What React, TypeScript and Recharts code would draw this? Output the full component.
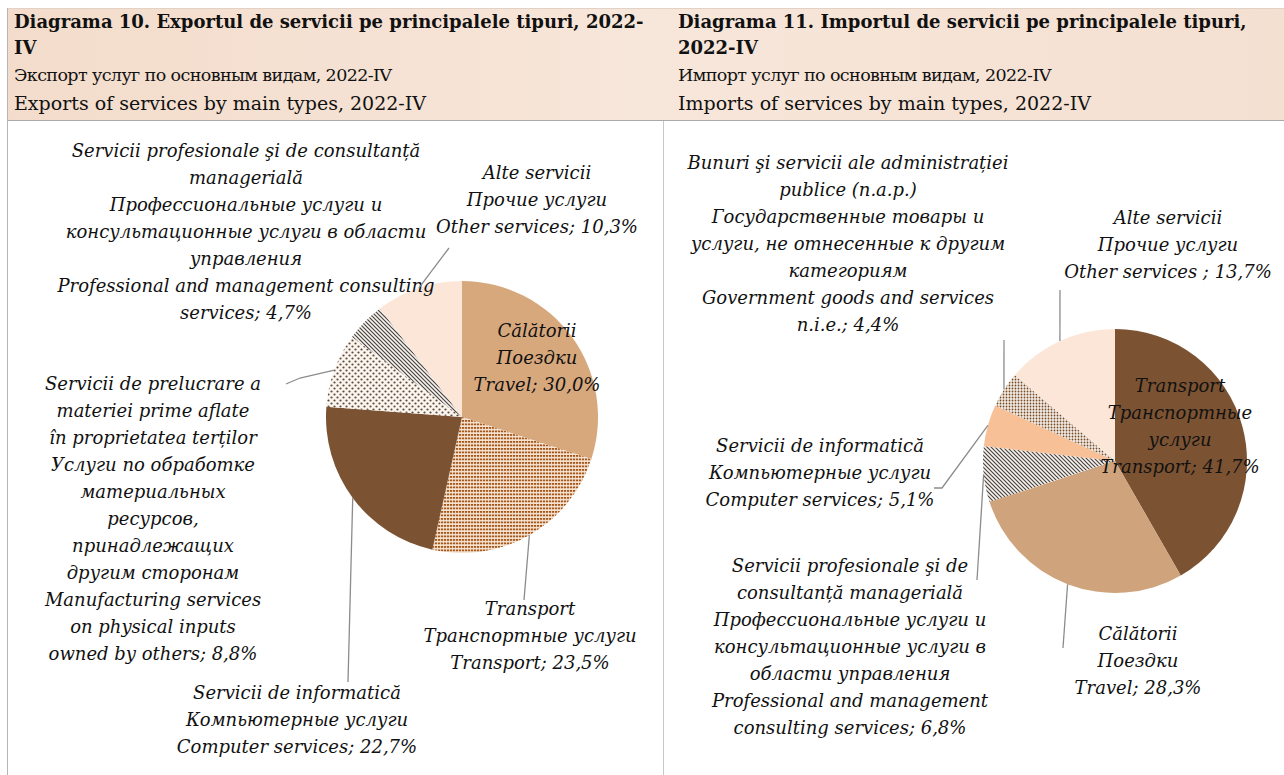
import { PieChart, Pie, Cell } from "recharts";

// Export of services, 2022-IV (clockwise from 12 o'clock)
const exportNames = ["Travel", "Transport", "Computer", "Manufacturing", "Professional", "Other"];
const exportValues = [30.0, 23.5, 22.7, 8.8, 4.7, 10.3];
const exportLabels = [
    ["Călătorii", "Поездки", "Travel; 30,0%"],
    ["Transport", "Транспортные услуги", "Transport; 23,5%"],
    ["Servicii de informatică", "Компьютерные услуги", "Computer services; 22,7%"],
    [
        "Servicii de prelucrare a", "materiei prime aflate", "în proprietatea terților",
        "Услуги по обработке", "материальных", "ресурсов,", "принадлежащих",
        "другим сторонам", "Manufacturing services", "on physical inputs", "owned by others; 8,8%",
    ],
    [
        "Servicii profesionale şi de consultanță", "managerială", "Профессиональные услуги и",
        "консультационные услуги в области", "управления",
        "Professional and management consulting", "services; 4,7%",
    ],
    ["Alte servicii", "Прочие услуги", "Other services; 10,3%"],
];

// Import of services, 2022-IV
const importNames = ["Transport", "Travel", "Professional", "Computer", "Government", "Other"];
const importValues = [41.7, 28.3, 6.8, 5.1, 4.4, 13.7];
const importLabels = [
    ["Transport", "Транспортные", "услуги", "Transport; 41,7%"],
    ["Călătorii", "Поездки", "Travel; 28,3%"],
    [
        "Servicii profesionale şi de", "consultanță managerială", "Профессиональные услуги и",
        "консультационные услуги в", "области управления", "Professional and management",
        "consulting services; 6,8%",
    ],
    ["Servicii de informatică", "Компьютерные услуги", "Computer services; 5,1%"],
    [
        "Bunuri şi servicii ale administrației", "publice (n.a.p.)", "Государственные товары и",
        "услуги, не отнесенные к другим", "категориям", "Government goods and services",
        "n.i.e.; 4,4%",
    ],
    ["Alte servicii", "Прочие услуги", "Other services ; 13,7%"],
];

const exportFills = ["#d8a87d", "url(#expTransport)", "#7c5332", "url(#dots)", "url(#stripes)", "#fbe6d8"];
const importFills = ["#7c5332", "#cfa37b", "url(#stripes)", "#f7c096", "url(#govDots)", "#fbe6d8"];

// label placement: text centre x, first baseline y, leader line points after the slice edge
const exportLayout = [
    { x: 537, y: 337, line: [] },
    { x: 530, y: 615, line: [[524, 600]] },
    { x: 297, y: 699, line: [[348, 682]] },
    { x: 153, y: 390, line: [[300, 378], [286, 384]] },
    { x: 246, y: 157, line: [] },
    { x: 537, y: 179, line: [[449, 248]] },
];
const importLayout = [
    { x: 1180, y: 392, line: [] },
    { x: 1138, y: 640, line: [[1063, 648]] },
    { x: 850, y: 572, line: [[977, 580]] },
    { x: 820, y: 452, line: [[942, 488], [934, 488]] },
    { x: 848, y: 169, line: [[1004, 340]] },
    { x: 1168, y: 224, line: [[1060, 290]] },
];

const RADIAN = Math.PI / 180;
const LINE_H = 27;

const makeLabel = (layout: any[], labels: string[][]) => (props: any) => {
    const { cx, cy, midAngle, outerRadius, index } = props;
    const L = layout[index];
    const ex = cx + outerRadius * Math.cos(-midAngle * RADIAN);
    const ey = cy + outerRadius * Math.sin(-midAngle * RADIAN);
    const pts = [[ex, ey], ...L.line].map((p: number[]) => p.join(",")).join(" ");
    return (
        <g key={`lbl-${index}`}>
            {L.line.length > 0 && (
                <polyline points={pts} fill="none" stroke="#8c8c8c" strokeWidth={1.3} />
            )}
            <text
                x={L.x}
                y={L.y}
                textAnchor="middle"
                fill="#111"
                style={{ fontFamily: "'DejaVu Serif', serif", fontStyle: "italic", fontSize: 18 }}
            >
                {labels[index].map((t, i) => (
                    <tspan key={i} x={L.x} dy={i === 0 ? 0 : LINE_H}>{t}</tspan>
                ))}
            </text>
        </g>
    );
};

const headerLine = { position: "absolute" as const, left: 0, whiteSpace: "nowrap" as const, lineHeight: 1 };

function Header({ left, lines }: { left: number; lines: string[] }) {
    return (
        <div style={{ position: "absolute", left, top: 0, fontFamily: "'DejaVu Serif', serif", color: "#111" }}>
            <div style={{ ...headerLine, top: 13, fontSize: 18, fontWeight: "bold" }}>{lines[0]}</div>
            <div style={{ ...headerLine, top: 39, fontSize: 18, fontWeight: "bold" }}>{lines[1]}</div>
            <div style={{ ...headerLine, top: 67, fontSize: 17.5, letterSpacing: -0.6 }}>{lines[2]}</div>
            <div style={{ ...headerLine, top: 94, fontSize: 19 }}>{lines[3]}</div>
        </div>
    );
}

export default function App() {
    return (
        <div style={{ position: "absolute", left: 0, top: 0, width: 1284, height: 775, background: "#fff", overflow: "hidden" }}>
            <svg width={0} height={0} style={{ position: "absolute" }}>
                <defs>
                    <pattern id="expTransport" width={3} height={3.5} patternUnits="userSpaceOnUse">
                        <rect width={3} height={3.5} fill="#f6e3d2" />
                        <rect x={0} y={0} width={2.2} height={1.8} fill="#a3561a" />
                    </pattern>
                    <pattern id="dots" width={6} height={6} patternUnits="userSpaceOnUse">
                        <rect width={6} height={6} fill="#fbf5ef" />
                        <circle cx={1.5} cy={1.5} r={1.1} fill="#5e4a38" />
                        <circle cx={4.5} cy={4.5} r={1.1} fill="#5e4a38" />
                    </pattern>
                    <pattern id="stripes" width={4} height={4} patternUnits="userSpaceOnUse">
                        <rect width={4} height={4} fill="#f7f3ef" />
                        <path d="M0,0 L4,4 M-1,3 L1,5 M3,-1 L5,1" stroke="#4a4440" strokeWidth={1.2} />
                    </pattern>
                    <pattern id="govDots" width={3} height={3} patternUnits="userSpaceOnUse">
                        <rect width={3} height={3} fill="#f0ebe6" />
                        <circle cx={1.5} cy={1.5} r={0.9} fill="#7a4a1e" />
                    </pattern>
                </defs>
            </svg>

            {/* header band and panel borders */}
            <div style={{ position: "absolute", left: 7, top: 8, width: 1277, height: 112, background: "linear-gradient(90deg, #f3dccb, #f7e6da 50%, #f4e0d1)", borderTop: "1px solid #e2d2c6" }} />
            <div style={{ position: "absolute", left: 7, top: 120, width: 1277, height: 1, background: "#a9a9a9" }} />
            <div style={{ position: "absolute", left: 7, top: 8, width: 1, height: 767, background: "#b5b5b5" }} />
            <div style={{ position: "absolute", left: 663, top: 121, width: 1, height: 654, background: "#c8c8c8" }} />

            <Header left={14} lines={[
                "Diagrama 10. Exportul de servicii pe principalele tipuri, 2022-",
                "IV",
                "Экспорт услуг по основным видам, 2022-IV",
                "Exports of services by main types, 2022-IV",
            ]} />
            <Header left={678} lines={[
                "Diagrama 11. Importul de servicii pe principalele tipuri,",
                "2022-IV",
                "Импорт услуг по основным видам, 2022-IV",
                "Imports of services by main types, 2022-IV",
            ]} />

            <div style={{ position: "absolute", left: 0, top: 0 }}>
                <PieChart width={1284} height={775}>
                    <Pie
                        data={exportValues.map((v, i) => ({ name: exportNames[i], value: v }))}
                        dataKey="value"
                        cx={457}
                        cy={412}
                        outerRadius={136}
                        startAngle={90}
                        endAngle={-270}
                        stroke="none"
                        label={makeLabel(exportLayout, exportLabels)}
                        labelLine={false}
                        isAnimationActive={false}
                    >
                        {exportFills.map((f, i) => <Cell key={i} fill={f} />)}
                    </Pie>
                    <Pie
                        data={importValues.map((v, i) => ({ name: importNames[i], value: v }))}
                        dataKey="value"
                        cx={1110}
                        cy={456}
                        outerRadius={132}
                        startAngle={90}
                        endAngle={-270}
                        stroke="none"
                        label={makeLabel(importLayout, importLabels)}
                        labelLine={false}
                        isAnimationActive={false}
                    >
                        {importFills.map((f, i) => <Cell key={i} fill={f} />)}
                    </Pie>
                </PieChart>
            </div>
        </div>
    );
}
